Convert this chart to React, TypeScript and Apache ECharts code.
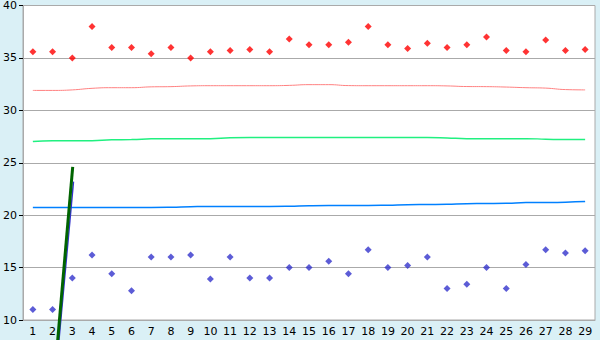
import React, { useEffect, useRef } from "react";
import * as echarts from "echarts";

const categories = Array.from({ length: 29 }, (_, i) => String(i + 1));
const yTicks = [10, 15, 20, 25, 30, 35, 40];

const redPoints = [35.6, 35.6, 35.0, 38.0, 36.0, 36.0, 35.4, 36.0, 35.0, 35.6, 35.7, 35.8, 35.6, 36.8, 36.25, 36.25, 36.5, 38.0, 36.25, 35.9, 36.4, 36.0, 36.25, 37.0, 35.7, 35.6, 36.7, 35.7, 35.8];
const bluePoints = [11.0, 11.0, 14.0, 16.2, 14.4, 12.8, 16.0, 16.0, 16.2, 13.9, 16.0, 14.0, 14.0, 15.0, 15.0, 15.6, 14.4, 16.7, 15.0, 15.2, 16.0, 13.0, 13.4, 15.0, 13.0, 15.3, 16.7, 16.4, 16.6];

const pinkLine = [31.9, 31.9, 31.95, 32.1, 32.16, 32.16, 32.24, 32.26, 32.33, 32.35, 32.35, 32.35, 32.35, 32.38, 32.45, 32.45, 32.36, 32.35, 32.35, 32.35, 32.35, 32.33, 32.27, 32.26, 32.22, 32.16, 32.12, 31.98, 31.95];
const greenLine = [27.02, 27.11, 27.11, 27.11, 27.2, 27.21, 27.28, 27.3, 27.3, 27.3, 27.38, 27.4, 27.4, 27.4, 27.4, 27.4, 27.4, 27.4, 27.4, 27.4, 27.4, 27.36, 27.3, 27.3, 27.3, 27.3, 27.25, 27.21, 27.21];
const blueLine = [20.73, 20.73, 20.73, 20.73, 20.73, 20.73, 20.73, 20.75, 20.8, 20.83, 20.83, 20.83, 20.83, 20.85, 20.9, 20.92, 20.92, 20.92, 20.95, 21.0, 21.02, 21.04, 21.1, 21.11, 21.13, 21.2, 21.21, 21.24, 21.3];

const trendGreen: [number, number][] = [[2.21, 7], [3.02, 24.6]];
const trendBlue: [number, number][] = [[2.27, 7], [3.06, 23.2]];

export default function App() {
  const ref = useRef<HTMLDivElement>(null);
  useEffect(() => {
    document.body.style.margin = "0";
    const chart = echarts.init(ref.current!, null, { renderer: "svg" });
    const font = "DejaVu Sans";
    chart.setOption({
      animation: false,
      backgroundColor: "#daf0f6",
      grid: {
        left: 20, right: 5, top: 5, bottom: 20,
        show: true, backgroundColor: "#ffffff", borderColor: "#aaaaaa", borderWidth: 1,
      },
      xAxis: [
        {
          type: "category",
          data: categories,
          boundaryGap: true,
          axisLine: { lineStyle: { color: "#aaaaaa", width: 1 } },
          axisTick: { alignWithLabel: true, length: 4, lineStyle: { color: "#000000" } },
          axisLabel: { color: "#000000", fontFamily: font, fontSize: 11, margin: 6, interval: 0 },
          splitLine: { show: false },
        },
        {
          type: "value",
          min: 0.5,
          max: 29.5,
          show: false,
          splitLine: { show: false },
        },
      ],
      yAxis: {
        type: "value",
        min: 10,
        max: 40,
        interval: 5,
        axisLine: { show: true, lineStyle: { color: "#aaaaaa", width: 1 } },
        axisTick: { show: true, length: 4, lineStyle: { color: "#000000" } },
        axisLabel: { color: "#000000", fontFamily: font, fontSize: 11, margin: 6 },
        splitLine: { lineStyle: { color: "#aaaaaa", width: 1 } },
      },
      series: [
        {
          type: "line", data: pinkLine, xAxisIndex: 0, showSymbol: false, smooth: true,
          lineStyle: { color: "#ff8080", width: 1 }, itemStyle: { color: "#ff8080" },
        },
        {
          type: "line", data: greenLine, xAxisIndex: 0, showSymbol: false, smooth: true,
          lineStyle: { color: "#20f080", width: 1.5 }, itemStyle: { color: "#20f080" },
        },
        {
          type: "line", data: blueLine, xAxisIndex: 0, showSymbol: false, smooth: true,
          lineStyle: { color: "#0080ff", width: 1.5 }, itemStyle: { color: "#0080ff" },
        },
        {
          type: "scatter", data: redPoints, xAxisIndex: 0, symbol: "diamond", symbolSize: 7,
          itemStyle: { color: "#ff0000" },
        },
        {
          type: "scatter", data: bluePoints, xAxisIndex: 0, symbol: "diamond", symbolSize: 7,
          itemStyle: { color: "#3333cc" },
        },
        {
          type: "line", data: trendBlue, xAxisIndex: 1, showSymbol: false, clip: false,
          lineStyle: { color: "#3333cc", width: 1.5 },
        },
        {
          type: "line", data: trendGreen, xAxisIndex: 1, showSymbol: false, clip: false,
          lineStyle: { color: "#006400", width: 3 },
        },
      ],
    });
    return () => chart.dispose();
  }, []);
  return <div ref={ref} style={{ width: 600, height: 340 }} />;
}
